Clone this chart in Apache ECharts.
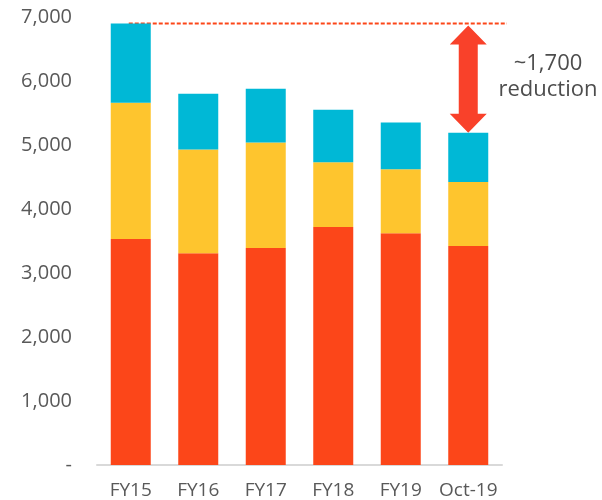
<!DOCTYPE html>
<html>
<head>
<meta charset="UTF-8">
<script src="https://cdn.jsdelivr.net/npm/echarts@6/dist/echarts.min.js"></script>
<style>
  html, body { margin: 0; padding: 0; background: #fff; }
  #chart { width: 602px; height: 500px; }
</style>
</head>
<body>
<div id="chart"></div>
<script>
// data
const categories = ['FY15', 'FY16', 'FY17', 'FY18', 'FY19', 'Oct-19'];
const redPart = [3530, 3310, 3390, 3720, 3620, 3420];
const yellowPart = [2130, 1620, 1650, 1010, 1000, 1000];
const cyanPart = [1240, 870, 840, 820, 730, 770];
const yTicks = [0, 1000, 2000, 3000, 4000, 5000, 6000, 7000];
const peakValue = 6900;
const noteLines = ['~1,700', 'reduction'];

const chart = echarts.init(document.getElementById('chart'));
const font = '"Open Sans", "Noto Sans", sans-serif';

function bar(name, data, color) {
  return { name, type: 'bar', stack: 'total', data, barWidth: 40, itemStyle: { color }, silent: true };
}

chart.setOption({
  animation: false,
  grid: { left: 97, right: 100, top: 17, bottom: 33 },
  xAxis: {
    type: 'category',
    data: categories,
    axisLine: { lineStyle: { color: '#d9d9d9', width: 2 } },
    axisTick: { show: false },
    axisLabel: { color: '#595959', fontSize: 19, fontFamily: font, margin: 16, interval: 0 }
  },
  yAxis: {
    type: 'value',
    min: yTicks[0],
    max: yTicks[yTicks.length - 1],
    interval: 1000,
    splitLine: { show: false },
    axisLine: { show: false },
    axisTick: { show: false },
    axisLabel: {
      color: '#595959', fontSize: 20, fontFamily: font, margin: 25,
      formatter: v => v === 0 ? '-' : v.toLocaleString('en-US')
    }
  },
  series: [
    bar('red', redPart, '#fc4619'),
    bar('yellow', yellowPart, '#fec52e'),
    bar('cyan', cyanPart, '#00b8d6')
  ]
});

// annotations: dashed line at the FY15 peak, double arrow and note
const last = categories.length - 1;
const [x0, yPeak] = chart.convertToPixel({ gridIndex: 0 }, [0, peakValue]);
const lastTotal = redPart[last] + yellowPart[last] + cyanPart[last];
const [xa, yLow] = chart.convertToPixel({ gridIndex: 0 }, [last, lastTotal]);
const head = 19, headW = 37, shaftW = 19;
chart.setOption({
  graphic: [
    {
      type: 'line', silent: true,
      shape: { x1: x0 - 2, y1: yPeak, x2: 507, y2: yPeak },
      style: { stroke: '#fc4619', lineWidth: 2, lineDash: [4, 2] }
    },
    {
      type: 'polygon', silent: true,
      shape: {
        points: [
          [xa, yPeak + 2],
          [xa + headW / 2, yPeak + 2 + head],
          [xa + shaftW / 2, yPeak + 2 + head],
          [xa + shaftW / 2, yLow - head],
          [xa + headW / 2, yLow - head],
          [xa, yLow],
          [xa - headW / 2, yLow - head],
          [xa - shaftW / 2, yLow - head],
          [xa - shaftW / 2, yPeak + 2 + head],
          [xa - headW / 2, yPeak + 2 + head]
        ]
      },
      style: { fill: '#f9412a' }
    },
    {
      type: 'text', silent: true,
      x: 548, y: (yPeak + yLow) / 2 - 1,
      style: {
        text: noteLines.join('\n'),
        fill: '#4d4d4d', fontSize: 22, fontFamily: font, lineHeight: 26,
        align: 'center', verticalAlign: 'middle'
      }
    }
  ]
});
</script>
</body>
</html>
